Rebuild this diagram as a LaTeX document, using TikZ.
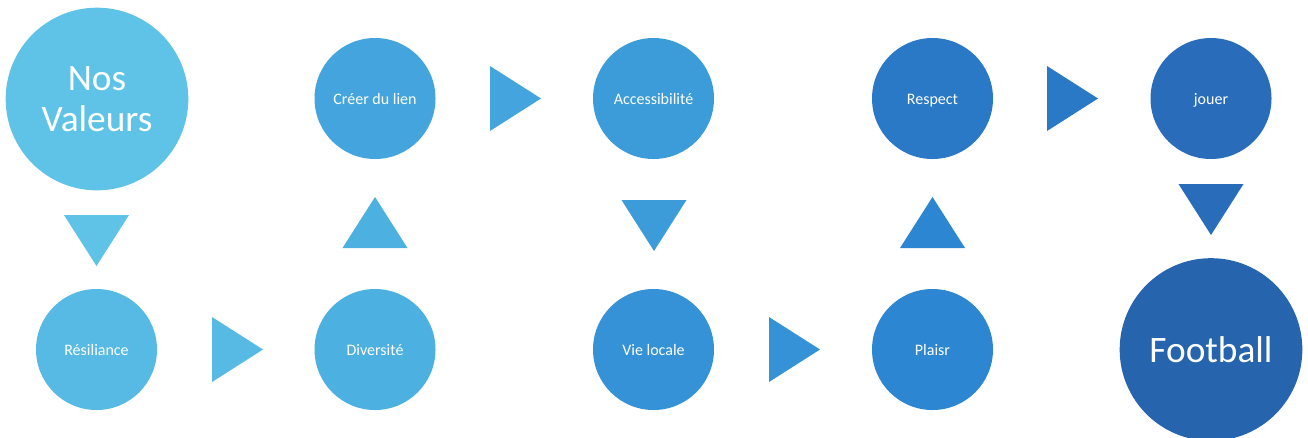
\documentclass[tikz,border=0pt]{standalone}
\usepackage{fontspec}
\setmainfont{Carlito}
\usepackage{tikz}
\usetikzlibrary{
  positioning,
  calc
}
\definecolor{c1}{HTML}{5FC3E8}
\definecolor{c2}{HTML}{57BAE4}
\definecolor{c3}{HTML}{4CB0E1}
\definecolor{c4}{HTML}{44A5DE}
\definecolor{c5}{HTML}{3C9CDA}
\definecolor{c6}{HTML}{3592D7}
\definecolor{c7}{HTML}{2D86D1}
\definecolor{c8}{HTML}{2A79C6}
\definecolor{c9}{HTML}{296DBA}
\definecolor{c10}{HTML}{2764AE}
\tikzstyle{value}=[circle, minimum size=90.75pt, inner sep=0pt, text=white, text height=8.25pt, text depth=0pt, font=\fontsize{12}{14}\selectfont]
\tikzstyle{bigvalue}=[circle, minimum size=137pt, inner sep=0pt, text=white, font=\fontsize{28}{31}\selectfont, align=center]

\begin{document}
\begin{tikzpicture}[x=0.75pt,y=-0.75pt]
    \def\tri#1#2#3#4{\fill[#4,shift={(#1,#2)},rotate=#3] (25.5,0) -- (-25.5,32.5) -- (-25.5,-32.5) -- cycle;}
    \useasboundingbox (0,0) rectangle (1308,437);

    % VALEURS
    \node[bigvalue, fill=c1] (nos)  at (97,99)     {Nos\\Valeurs};
    \node[value, fill=c2]    (res)  at (96.5,349.5) {Résiliance};
    \node[value, fill=c3]    (div)  at (375,349.5)  {Diversité};
    \node[value, fill=c4]    (lien) at (375,98.5)   {Créer du lien};
    \node[value, fill=c5]    (acc)  at (653.5,98.5) {Accessibilité};
    \node[value, fill=c6]    (vie)  at (653.5,349.5) {Vie locale};
    \node[value, fill=c7]    (pla)  at (932.5,349.5) {Plaisr};
    \node[value, fill=c8]    (resp) at (932.5,98.5) {Respect};
    \node[value, fill=c9]    (jou)  at (1211,98.5)  {jouer};
    \node[bigvalue, fill=c10] (foot) at (1211,349.5) {Football};

    % FLECHES
    \tri{96.5}{240.5}{-90}{c1}
    \tri{237.5}{349.5}{0}{c2}
    \tri{375}{222.5}{90}{c3}
    \tri{515.5}{98.5}{0}{c4}
    \tri{654}{225.5}{-90}{c5}
    \tri{794.5}{349.5}{0}{c6}
    \tri{932.5}{222.5}{90}{c7}
    \tri{1072.5}{98.5}{0}{c8}
    \tri{1211}{209.5}{-90}{c9}
\end{tikzpicture}
\end{document}
